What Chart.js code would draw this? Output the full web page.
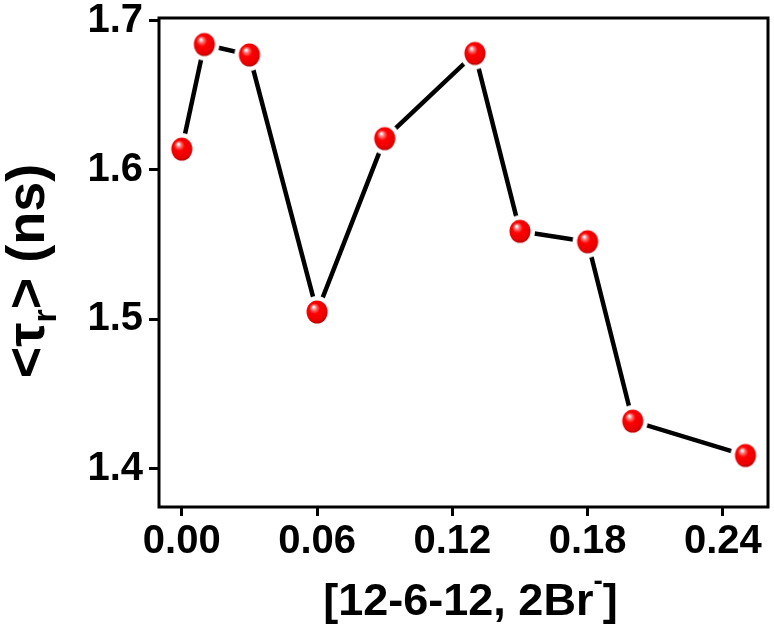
<!DOCTYPE html>
<html>
<head>
<meta charset="utf-8">
<script src="https://cdn.jsdelivr.net/npm/chart.js@4.4.1/dist/chart.umd.min.js"></script>
<style>
  html, body { margin: 0; padding: 0; background: #fff; }
  #wrap { width: 774px; height: 628px; }
</style>
</head>
<body>
<div id="wrap"><canvas id="tauChart"></canvas></div>
<script>
// values
const xValues = [0, 0.01, 0.03, 0.06, 0.09, 0.13, 0.15, 0.18, 0.20, 0.25];
const tauValues = [1.614, 1.684, 1.677, 1.505, 1.621, 1.678, 1.559, 1.552, 1.432, 1.409];
const xTicks = [0, 0.06, 0.12, 0.18, 0.24];
const yTicks = [1.4, 1.5, 1.6, 1.7];
const xTitle = ['[12-6-12, 2Br', '-', ']'];
const yTitle = ['<τ', 'r', '> (ns)'];

const FONT = "'Liberation Sans', Arial, sans-serif";

// red ball marker, with a white ring so the line stops short of it
function makeBall() {
  const c = document.createElement('canvas');
  c.width = 36;
  c.height = 38;
  const g = c.getContext('2d');
  g.fillStyle = '#fff';
  g.beginPath();
  g.ellipse(18, 19, 15, 16, 0, 0, Math.PI * 2);
  g.fill();
  const grad = g.createRadialGradient(14.5, 14, 0.5, 17, 18, 12.5);
  grad.addColorStop(0, '#ffffff');
  grad.addColorStop(0.18, '#ff7070');
  grad.addColorStop(0.4, '#ff0000');
  grad.addColorStop(0.85, '#e80000');
  grad.addColorStop(1, '#b00000');
  g.fillStyle = grad;
  g.beginPath();
  g.ellipse(18, 19, 10.5, 11.5, 0, 0, Math.PI * 2);
  g.fill();
  return c;
}

// draw text pieces side by side, some raised or lowered, centred on 0
function drawPieces(ctx, pieces) {
  let total = 0;
  pieces.forEach(p => { ctx.font = p.font; p.w = ctx.measureText(p.text).width; total += p.w; });
  let x = -total / 2;
  pieces.forEach(p => {
    ctx.font = p.font;
    ctx.fillText(p.text, x, p.dy);
    x += p.w;
  });
}

const framePlugin = {
  id: 'frame',
  beforeDatasetsDraw(chart) {
    const { ctx, chartArea: a } = chart;
    ctx.save();
    ctx.strokeStyle = '#000';
    ctx.lineWidth = 3;
    ctx.strokeRect(a.left, a.top, a.right - a.left, a.bottom - a.top);
    ctx.restore();
  }
};

const titlePlugin = {
  id: 'axisTitles',
  afterDraw(chart) {
    const { ctx, chartArea: a } = chart;
    ctx.save();
    ctx.fillStyle = '#000';
    ctx.textBaseline = 'alphabetic';
    ctx.textAlign = 'left';

    ctx.save();
    ctx.translate((a.left + a.right) / 2 + 7, 615);
    drawPieces(ctx, [
      { text: xTitle[0], font: `bold 45px ${FONT}`, dy: 0 },
      { text: xTitle[1], font: `bold 28px ${FONT}`, dy: -25 },
      { text: xTitle[2], font: `bold 45px ${FONT}`, dy: 0 }
    ]);
    ctx.restore();

    ctx.save();
    ctx.translate(44, 271);
    ctx.rotate(-Math.PI / 2);
    drawPieces(ctx, [
      { text: yTitle[0], font: `bold 54px ${FONT}`, dy: 0 },
      { text: yTitle[1], font: `bold 34px ${FONT}`, dy: 12 },
      { text: yTitle[2], font: `bold 54px ${FONT}`, dy: 0 }
    ]);
    ctx.restore();

    ctx.restore();
  }
};

const ctx = document.getElementById('tauChart').getContext('2d');
const tauChart = new Chart(ctx, {
  type: 'line',
  data: {
    datasets: [{
      data: xValues.map((x, i) => ({ x: x, y: tauValues[i] })),
      borderColor: '#000',
      borderWidth: 4.5,
      pointStyle: makeBall(),
      pointRadius: 11,
      tension: 0,
      fill: false
    }]
  },
  options: {
    responsive: true,
    maintainAspectRatio: false,
    animation: false,
    layout: { autoPadding: false, padding: { left: 0, top: 18, right: 6, bottom: 0 } },
    plugins: {
      legend: { display: false },
      tooltip: { enabled: false }
    },
    scales: {
      x: {
        type: 'linear',
        min: -0.0101,
        max: 0.26,
        afterBuildTicks: s => { s.ticks = xTicks.map(v => ({ value: v })); },
        afterFit: s => { s.height = 121; s.paddingLeft = 0; s.paddingRight = 0; },
        ticks: {
          callback: v => v.toFixed(2),
          color: '#000',
          padding: 2,
          maxRotation: 0,
          autoSkip: false,
          font: { family: FONT, size: 40, weight: 'bold' }
        },
        grid: {
          drawOnChartArea: false,
          drawTicks: true,
          tickLength: 9,
          tickWidth: 3,
          lineWidth: 3,
          tickColor: '#000'
        },
        border: { display: false }
      },
      y: {
        min: 1.3745,
        max: 1.7017,
        afterBuildTicks: s => { s.ticks = yTicks.map(v => ({ value: v })); },
        afterFit: s => { s.width = 159; s.paddingTop = 0; s.paddingBottom = 0; },
        ticks: {
          callback: v => v.toFixed(1),
          color: '#000',
          padding: 6,
          font: { family: FONT, size: 40, weight: 'bold' }
        },
        grid: {
          drawOnChartArea: false,
          drawTicks: true,
          tickLength: 10,
          tickWidth: 3,
          lineWidth: 3,
          tickColor: '#000'
        },
        border: { display: false }
      }
    }
  },
  plugins: [framePlugin, titlePlugin]
});
</script>
</body>
</html>
